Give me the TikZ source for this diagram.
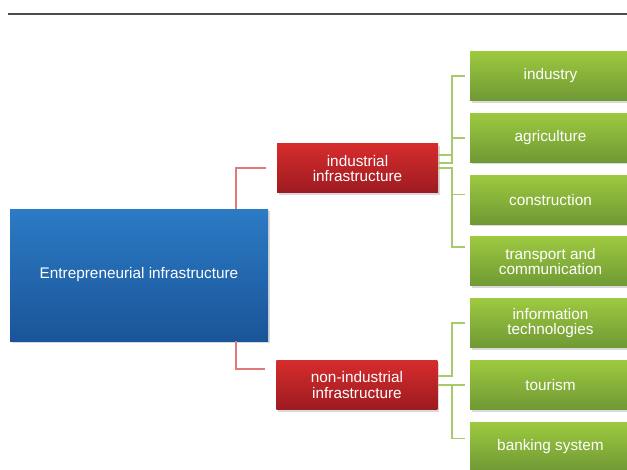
\documentclass[tikz,border=0pt]{standalone}
\usepackage{fontspec}
\setmainfont{Liberation Sans}
\usetikzlibrary{positioning,shadows}

\definecolor{rootTop}{HTML}{2C7BC5}
\definecolor{rootBot}{HTML}{1A5498}
\definecolor{redTop}{HTML}{D62C2C}
\definecolor{redBot}{HTML}{9C1B21}
\definecolor{greenTop}{HTML}{9DC940}
\definecolor{greenBot}{HTML}{6F9934}
\definecolor{redLine}{HTML}{E07A7A}
\definecolor{greenLine}{HTML}{A8C96C}

\begin{document}
\begin{tikzpicture}[
    x=0.75pt, y=-0.75pt,
    node distance=9.2pt and 24pt,
    box/.style={minimum width=120.75pt, minimum height=36.75pt, inner sep=0pt,
        align=center, text=white, font=\fontsize{11.5}{11.5}\selectfont,
        drop shadow={shadow xshift=1.2pt, shadow yshift=-1.5pt, opacity=0.3}},
    rootbox/.style={box, top color=rootTop, bottom color=rootBot,
        minimum width=193.5pt, minimum height=99pt},
    branch/.style={box, top color=redTop, bottom color=redBot},
    leaf/.style={box, top color=greenTop, bottom color=greenBot},
    redlink/.style={draw=redLine, line width=1.3pt, shorten >=8.25pt},
    greenlink/.style={draw=greenLine, line width=1.3pt, shorten >=3.75pt}
]
\useasboundingbox (0,0) rectangle (627,469);
\draw[line width=1.5pt, black!70] (8,13.8) -- (627,13.8);

\node[leaf] (industry) at (550.5,76) {industry};
\node[leaf, below=of industry] (agriculture) {agriculture};
\node[leaf, below=of agriculture] (construction) {construction};
\node[leaf, below=of construction] (transport) {transport and\\communication};
\node[leaf, below=of transport] (information) {information\\technologies};
\node[leaf, below=of information] (tourism) {tourism};
\node[leaf, below=of tourism] (banking) {banking system};

\node[branch] (ind) at (357.5,168.25) {industrial\\infrastructure};
\node[branch, left=of tourism] (nonind) {non-industrial\\infrastructure};
\node[rootbox] (root) at (139,275) {Entrepreneurial infrastructure};

\coordinate (rx) at (235.7,0);
\draw[redlink] (root.north -| rx) |- (ind.west);
\draw[redlink] (root.south -| rx) |- ([yshift=11.8pt]nonind.west);

\draw[greenlink] ([yshift=9.9pt]ind.east) -- ++(10.5pt,0) |- (industry.west);
\draw[greenlink] ([yshift=3.9pt]ind.east) -- ++(10.5pt,0) |- (agriculture.west);
\draw[greenlink] (ind.east) -- ++(10.5pt,0) |- ([yshift=3.75pt]construction.west);
\draw[greenlink] (ind.east) -- ++(10.5pt,0) |- ([yshift=10.9pt]transport.west);
\draw[greenlink] ([yshift=6.6pt]nonind.east) -- ++(10.5pt,0) |- (information.west);
\draw[greenlink] (nonind.east) -- (tourism.west);
\draw[greenlink] (nonind.east) -- ++(10.5pt,0) |- ([yshift=6.2pt]banking.west);
\end{tikzpicture}
\end{document}
